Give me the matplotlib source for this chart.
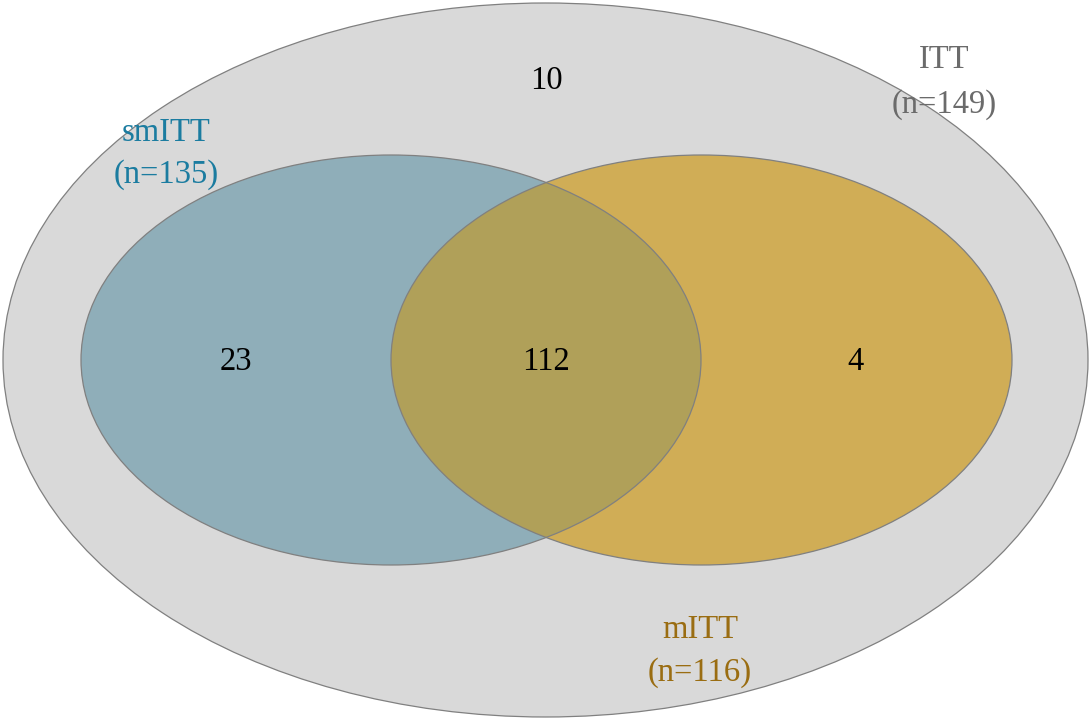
import matplotlib
matplotlib.use("Agg")
import matplotlib.pyplot as plt
from matplotlib.patches import Ellipse

# Datos de las regiones
conjuntos = ["ITT", "smITT", "mITT"]
n_conjuntos = [149, 135, 116]
solo_itt = 10
solo_smitt = 23
ambos = 112
solo_mitt = 4

W, H = 1089, 719
fig = plt.figure(figsize=(W / 100, H / 100), dpi=100)
ax = fig.add_axes([0, 0, 1, 1])
ax.set_xlim(0, W)
ax.set_ylim(H, 0)
ax.axis("off")

borde = "#808080"

# Elipse grande (ITT)
grande = Ellipse((545.5, 360), 1085, 714, facecolor="#d9d9d9", edgecolor=borde, linewidth=0.9)
ax.add_patch(grande)

# smITT y mITT
azul = Ellipse((391, 360), 620, 410, facecolor="#8faeb9", edgecolor="none")
naranja = Ellipse((701.5, 360), 621, 410, facecolor="#d0ad56", edgecolor="none")
ax.add_patch(azul)
ax.add_patch(naranja)

# Intersección
inter = Ellipse((701.5, 360), 621, 410, facecolor="#b0a059", edgecolor="none")
ax.add_patch(inter)
inter.set_clip_path(azul)

# Bordes encima
for c, w in [((391, 360), 620), ((701.5, 360), 621)]:
    ax.add_patch(Ellipse(c, w, 410, facecolor="none", edgecolor=borde, linewidth=0.9))

fuente = "Liberation Serif"
fs = 23.5

ax.text(546, 81, str(solo_itt), ha="center", va="center", fontsize=fs, family=fuente)
ax.text(236, 362, str(solo_smitt), ha="center", va="center", fontsize=fs, family=fuente)
ax.text(546, 362, str(ambos), ha="center", va="center", fontsize=fs, family=fuente)
ax.text(855, 362, str(solo_mitt), ha="center", va="center", fontsize=fs, family=fuente)

etiquetas = [
    (944, 60, 105, "#6b6b6b"),
    (166, 133, 175, "#1b7ca0"),
    (700, 630, 673, "#9a6d12"),
]
for nombre, n, (x, y1, y2, col) in zip(conjuntos, n_conjuntos, etiquetas):
    ax.text(x, y1, nombre, ha="center", va="center", fontsize=fs, family=fuente, color=col)
    ax.text(x, y2, f"(n={n})", ha="center", va="center", fontsize=fs, family=fuente, color=col)

fig.savefig("out.png", dpi=100)
